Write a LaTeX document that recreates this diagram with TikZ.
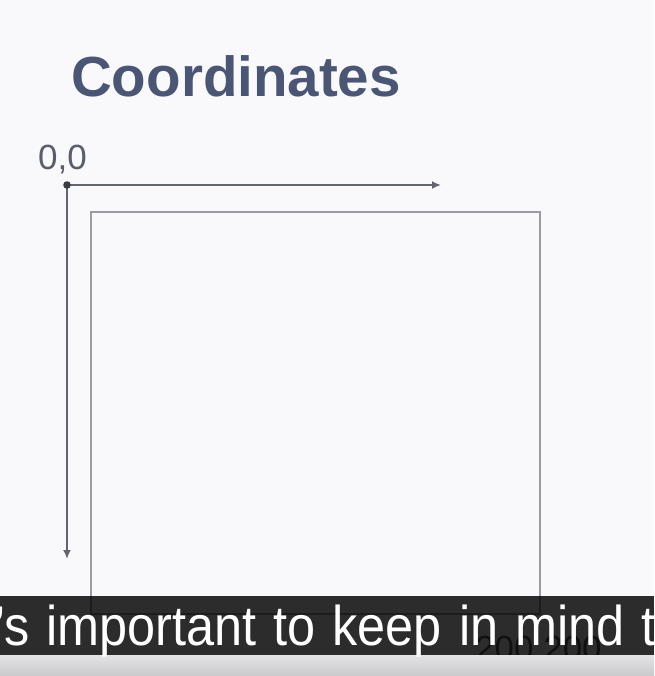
\documentclass[tikz,border=0pt]{standalone}
\usepackage{fontspec}
\setmainfont{Liberation Sans}
\newfontfamily\subfont[FakeStretch=0.9]{Liberation Sans}
\usetikzlibrary{arrows.meta}
\definecolor{bgc}{HTML}{F9F9FB}
\definecolor{titlec}{HTML}{4B5574}
\definecolor{labelc}{HTML}{5A5E6A}
\definecolor{axisc}{HTML}{62656F}
\definecolor{boxc}{HTML}{9A9CA3}
\definecolor{stripA}{HTML}{E4E4E6}
\definecolor{stripB}{HTML}{C9C9CB}
\newlength{\subspace}
\setlength{\subspace}{17pt}
\tikzset{
  axis/.style={draw=axisc, line width=2.2pt, -{Latex[length=9pt,width=8pt]}},
  canvasbox/.style={draw=boxc, line width=2.2pt, rectangle, minimum width=449pt, minimum height=402pt, inner sep=0pt, anchor=north west},
  lbl/.style={text=labelc, inner sep=0pt, font=\fontsize{35}{40}\selectfont},
}
\begin{document}
\begin{tikzpicture}[x=1pt,y=-1pt]
\useasboundingbox (0,0) rectangle (654,676);
\clip (0,0) rectangle (654,676);
\fill[bgc] (0,0) rectangle (654,676);
% title
\node[anchor=base west, inner sep=0pt, text=titlec, font=\fontsize{56.5}{60}\selectfont\bfseries] (title) at (71,97) {Coordinates};
% origin and axes
\coordinate (o) at (67,185);
\coordinate (xend) at (441,185);
\coordinate (yend) at (67,559);
\draw[axis] (o) -- (xend);
\draw[axis] (o) -- (yend);
\fill[axisc!60!black] (o) circle (3.8pt);
\node[lbl, anchor=base west] (zero) at (38,170) {0,0};
% canvas box
\node[canvasbox] (canvas) at (89.5,211) {};
% bottom-right label
\node[lbl, anchor=base west] (far) at (475,660) {200,200};
% bottom grey strip
\shade[top color=stripA, bottom color=stripB] (0,655) rectangle (654,676);
% subtitle bar
\fill[black, opacity=0.82] (0,596) rectangle (654,655);
\node[anchor=base west, inner sep=0pt, text=white, font={\subfont\fontsize{56}{60}\selectfont}] (sub) at (-6,645) {\spaceskip=\subspace ’s important to keep in mind t};
\end{tikzpicture}
\end{document}
